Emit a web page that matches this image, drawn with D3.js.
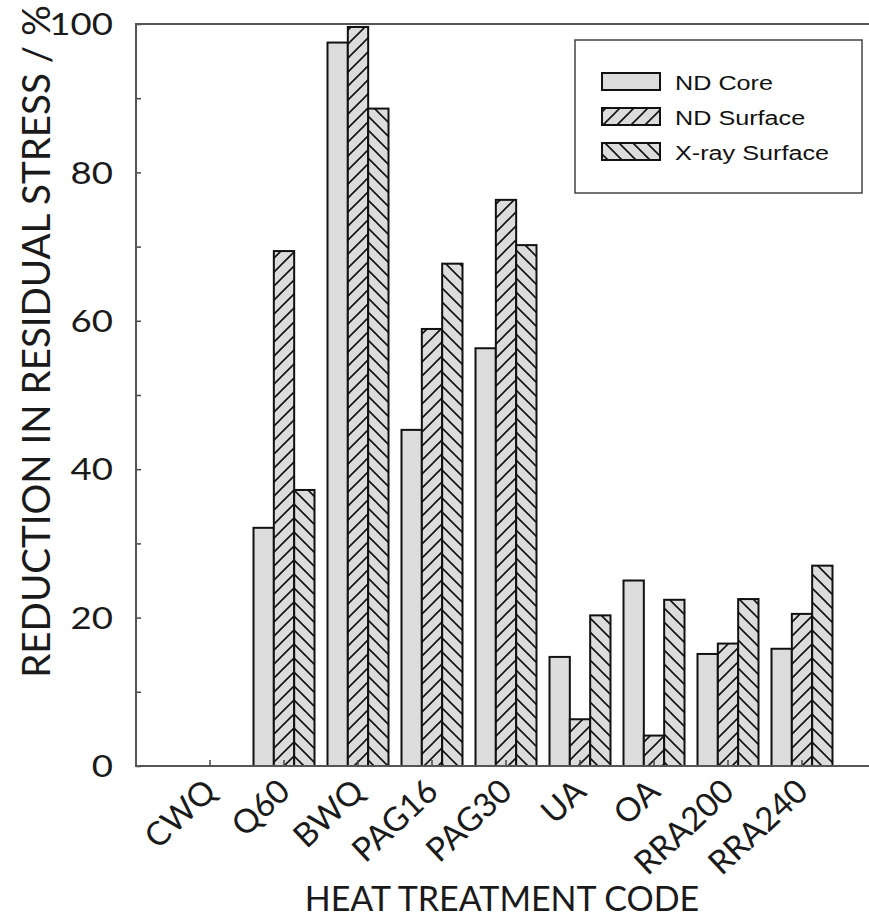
<!DOCTYPE html>
<html>
<head>
<meta charset="utf-8">
<script src="https://cdn.jsdelivr.net/npm/d3@7"></script>
<style>
  body { margin: 0; background: #fff; }
  svg { display: block; }
  text.lbl { font-family: Lato, sans-serif; font-weight: 400; fill: #1a1a1a; }
</style>
</head>
<body>
<div id="chart"></div>
<script>
const width = 869;
const height = 920;

// Data
const categories = ["CWQ", "Q60", "BWQ", "PAG16", "PAG30", "UA", "OA", "RRA200", "RRA240"];
const seriesNames = ["ND Core", "ND Surface", "X-ray Surface"];
const ndCore = [0, 32.1, 97.5, 45.3, 56.3, 14.7, 25.0, 15.1, 15.8];
const ndSurface = [0, 69.4, 99.6, 58.9, 76.3, 6.3, 4.1, 16.5, 20.5];
const xraySurface = [0, 37.2, 88.6, 67.7, 70.2, 20.3, 22.4, 22.5, 27.0];
const yTicks = [0, 20, 40, 60, 80, 100];

const series = [ndCore, ndSurface, xraySurface];
const fills = ["#dcdcdc", "url(#hatchUp)", "url(#hatchDown)"];

const plot = { left: 136, right: 876, top: 24, bottom: 766 };

const svg = d3.select("#chart")
    .append("svg")
    .attr("width", width)
    .attr("height", height);

// hatch patterns
const defs = svg.append("defs");
function hatch(id, d) {
    const p = defs.append("pattern")
        .attr("id", id)
        .attr("patternUnits", "userSpaceOnUse")
        .attr("width", 14)
        .attr("height", 14);
    p.append("rect").attr("width", 14).attr("height", 14).attr("fill", "#dcdcdc");
    p.append("path").attr("d", d)
        .attr("stroke", "#111").attr("stroke-width", 1.6).attr("fill", "none");
}
hatch("hatchUp", "M-7,7 L7,-7 M0,14 L14,0 M7,21 L21,7");
hatch("hatchDown", "M-7,7 L7,21 M0,0 L14,14 M7,-7 L21,7");

const x = d3.scaleBand()
    .domain(categories)
    .range([plot.left + 37, plot.right - 37])
    .paddingInner(13 / 74)
    .paddingOuter(13 / 148);

const xSub = d3.scaleBand()
    .domain(d3.range(seriesNames.length))
    .range([0, x.bandwidth()]);

const y = d3.scaleLinear()
    .domain([0, 100])
    .range([plot.bottom, plot.top]);

// bars
categories.forEach((c, i) => {
    series.forEach((vals, s) => {
        if (vals[i] <= 0) return;
        svg.append("rect")
            .attr("x", x(c) + xSub(s))
            .attr("y", y(vals[i]))
            .attr("width", xSub.bandwidth())
            .attr("height", y(0) - y(vals[i]))
            .attr("fill", fills[s])
            .attr("stroke", "#111")
            .attr("stroke-width", 2);
    });
});

// y axis ticks (inside) every 10
const yAxis = svg.append("g")
    .attr("transform", `translate(${plot.left},0)`)
    .call(d3.axisRight(y).tickValues(d3.range(0, 101, 10)).tickSize(5).tickFormat(""));
yAxis.select(".domain").remove();
yAxis.selectAll("line").attr("stroke", "#444").attr("stroke-width", 1.5);

svg.selectAll(".ylab")
    .data(yTicks)
    .enter()
    .append("text")
    .attr("class", "lbl")
    .attr("transform", d => `translate(${plot.left - 23},${y(d)}) scale(1.18,1)`)
    .attr("dy", "0.36em")
    .attr("text-anchor", "end")
    .attr("font-size", 31)
    .text(d => d);

// x axis ticks (inside)
const xAxis = svg.append("g")
    .attr("transform", `translate(0,${plot.bottom})`)
    .call(d3.axisTop(x).tickSize(6).tickFormat(""));
xAxis.select(".domain").remove();
xAxis.selectAll("line").attr("stroke", "#444").attr("stroke-width", 1.5);

// frame lines
svg.append("path")
    .attr("d", `M${plot.right},${plot.top} H${plot.left} V${plot.bottom} H${plot.right}`)
    .attr("fill", "none")
    .attr("stroke", "#555")
    .attr("stroke-width", 2);

// x tick labels rotated
svg.selectAll(".xlab")
    .data(categories)
    .enter()
    .append("text")
    .attr("class", "lbl")
    .attr("transform", d => `translate(${x(d) + x.bandwidth() / 2 + 8},${plot.bottom + 28}) rotate(-43)`)
    .attr("text-anchor", "end")
    .attr("font-size", 33)
    .text(d => d);

// axis titles
svg.append("text")
    .attr("class", "lbl")
    .attr("x", 502)
    .attr("y", 911)
    .attr("text-anchor", "middle")
    .attr("font-size", 34)
    .text("HEAT TREATMENT CODE");

svg.append("text")
    .attr("class", "lbl")
    .attr("transform", `translate(50,${(5 + 678) / 2}) rotate(-90)`)
    .attr("text-anchor", "middle")
    .attr("font-size", 38.5)
    .text("REDUCTION IN RESIDUAL STRESS / %");

// legend
const legend = svg.append("g");
legend.append("rect")
    .attr("x", 575).attr("y", 40)
    .attr("width", 287).attr("height", 153)
    .attr("fill", "#fff")
    .attr("stroke", "#444")
    .attr("stroke-width", 1.5);

seriesNames.forEach((name, s) => {
    const ly = 73 + s * 35;
    legend.append("rect")
        .attr("x", 602).attr("y", ly)
        .attr("width", 58).attr("height", 17)
        .attr("fill", fills[s])
        .attr("stroke", "#111")
        .attr("stroke-width", 2);
    legend.append("text")
        .attr("transform", `translate(675,${ly + 9}) scale(1.2,1)`)
        .attr("dy", "0.36em")
        .attr("font-family", "Liberation Sans, Arial, sans-serif")
        .attr("font-size", 21)
        .attr("fill", "#111")
        .text(name);
});
</script>
</body>
</html>
